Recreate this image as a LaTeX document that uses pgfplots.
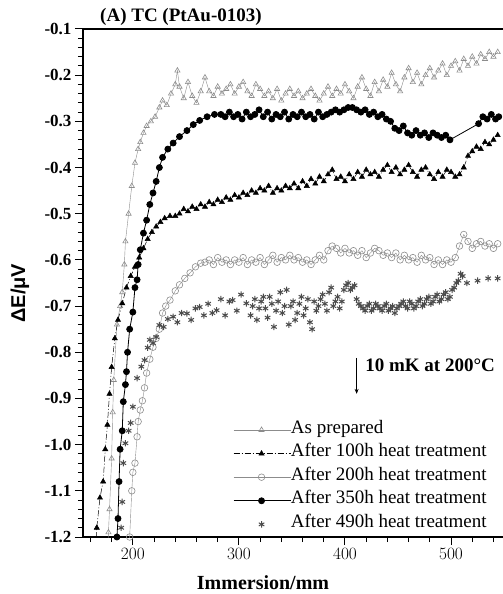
\documentclass[border=0pt]{standalone}
\usepackage{fontspec}
\setmainfont{Liberation Serif}
\newfontfamily\labelsans{Liberation Sans}
\usepackage{pgfplots}
\pgfplotsset{compat=1.18}
\usetikzlibrary{arrows.meta}
\begin{document}
\begin{tikzpicture}
\begin{axis}[
  scale only axis, width=420pt, height=508pt,
  xmin=153, xmax=549, ymin=-1.2, ymax=-0.1,
  axis x line*=box, axis y line*=left,
  axis line style={line width=1.1pt},
  xtick={200,300,400,500},
  minor xtick={160,180,220,240,260,280,320,340,360,380,420,440,460,480,520,540},
  ytick={-1.2,-1.1,-1.0,-0.9,-0.8,-0.7,-0.6,-0.5,-0.4,-0.3,-0.2,-0.1},
  yticklabels={-1.2,-1.1,-1.0,-0.9,-0.8,-0.7,-0.6,-0.5,-0.4,-0.3,-0.2,-0.1},
  minor y tick num=4,
  xtick pos=left, ytick pos=left,
  tick align=outside,
  major tick length=8pt, minor tick length=5pt,
  every tick/.style={black, line width=1pt},
  tick label style={font=\fontsize{17}{20}\selectfont\bfseries},
  title={(A) TC (PtAu-0103)},
  title style={font=\fontsize{19}{22}\selectfont\bfseries, at={(axis description cs:0.0405,1)}, anchor=base west, inner sep=0pt, yshift=1pt},
  xlabel={Immersion/mm},
  xlabel style={font=\fontsize{20}{24}\selectfont\bfseries, at={(axis description cs:0.4286,-0.1043)}, anchor=base},
  ylabel={\labelsans ΔE/μV},
  ylabel style={font=\fontsize{20}{24}\selectfont\bfseries, at={(axis description cs:-0.15,0.48)}, anchor=center},
  legend image code/.code={\draw[mark repeat=2,mark phase=2,#1] plot coordinates {(0pt,0pt) (28pt,0pt) (57pt,0pt)};},
  legend style={draw=none, fill=none, at={(axis description cs:0.357,0.2343)}, anchor=north west,
    font=\fontsize{19}{23}\selectfont, row sep=0pt, inner sep=0pt,
    nodes={inner sep=0pt, text height=15pt, text depth=8.6pt, anchor=west},
    /tikz/every even column/.append style={column sep=2pt}},
  legend cell align=left,
]
% As prepared
\addplot[color=black!45, mark=triangle, mark size=3pt, line width=0.4pt, mark options={solid, line width=0.6pt}] coordinates {
(176,-1.25)(177,-1.19)(178,-1.14)(180,-1.03)(181,-0.93)(182,-0.86)(185,-0.74)(188,-0.70)(190,-0.67)(192,-0.61)(193,-0.56)(196,-0.50)(199,-0.44)(202,-0.39)(205,-0.36)(207,-0.345)(210,-0.325)(213,-0.31)(217,-0.30)(221,-0.29)(225,-0.27)(228,-0.255)(232,-0.265)(236,-0.24)(240,-0.22)(242,-0.19)
(244,-0.225)(248,-0.25)(252,-0.215)(256,-0.245)(260,-0.26)(264,-0.235)(268,-0.205)(272,-0.235)(276,-0.245)(280,-0.225)(284,-0.24)(288,-0.23)(292,-0.22)(296,-0.24)(300,-0.225)(304,-0.215)(308,-0.235)(312,-0.245)(316,-0.22)(320,-0.23)(324,-0.245)(328,-0.235)(332,-0.25)(336,-0.23)(340,-0.255)(344,-0.24)(348,-0.23)(352,-0.245)(356,-0.235)(360,-0.25)(364,-0.24)(368,-0.23)(372,-0.245)(376,-0.255)(380,-0.24)(384,-0.225)(388,-0.245)(392,-0.23)(396,-0.24)(400,-0.22)(404,-0.235)(408,-0.25)(412,-0.225)(416,-0.205)(420,-0.23)(424,-0.245)(428,-0.215)(432,-0.235)(436,-0.21)(440,-0.225)(444,-0.195)(448,-0.22)(452,-0.235)(456,-0.205)(460,-0.185)(464,-0.215)(468,-0.195)(472,-0.22)(476,-0.2)(480,-0.185)(484,-0.205)(488,-0.19)(492,-0.175)(496,-0.2)(500,-0.18)(504,-0.17)(508,-0.19)(512,-0.165)(516,-0.18)(520,-0.16)(524,-0.175)(528,-0.155)(532,-0.165)(536,-0.15)(540,-0.16)(544,-0.15)
};
\addlegendentry{As prepared}
% After 100h
\addplot[color=black, mark=triangle*, mark size=3pt, line width=0.5pt, dash pattern=on 6pt off 2pt on 1pt off 2pt, mark options={solid}] coordinates {
(164,-1.25)(166,-1.18)(169,-1.115)(172,-1.08)(174,-1.01)(176,-0.957)(178,-0.89)(180,-0.832)(183,-0.77)(186,-0.73)(190,-0.694)(194,-0.66)(198,-0.635)(202,-0.615)(206,-0.595)(210,-0.575)(214,-0.555)(218,-0.54)(222,-0.528)(226,-0.518)(230,-0.51)(235,-0.505)
(240,-0.505)(244,-0.5)(248,-0.49)(252,-0.495)(256,-0.485)(260,-0.49)(264,-0.48)(268,-0.485)(272,-0.475)(276,-0.48)(280,-0.47)(284,-0.475)(288,-0.465)(292,-0.47)(296,-0.46)(300,-0.465)(304,-0.455)(308,-0.46)(312,-0.45)(316,-0.455)(320,-0.445)(324,-0.45)(328,-0.44)(332,-0.455)(336,-0.445)(340,-0.45)(344,-0.44)(348,-0.445)(352,-0.435)(356,-0.445)(360,-0.43)(364,-0.44)(368,-0.425)(372,-0.435)(376,-0.42)(380,-0.43)(384,-0.415)(388,-0.405)(392,-0.425)(396,-0.42)(400,-0.43)(404,-0.415)(408,-0.425)(412,-0.41)(416,-0.42)(420,-0.405)(424,-0.415)(428,-0.41)(432,-0.42)(436,-0.405)(440,-0.395)(444,-0.41)(448,-0.4)(452,-0.415)(456,-0.405)(460,-0.395)(464,-0.41)(468,-0.42)(472,-0.405)(476,-0.4)(480,-0.415)(484,-0.425)(488,-0.41)(492,-0.42)(496,-0.405)(500,-0.41)(504,-0.42)(508,-0.415)(512,-0.4)(516,-0.375)(520,-0.365)(524,-0.355)(528,-0.36)(532,-0.345)(536,-0.35)(540,-0.34)(544,-0.33)
};
\addlegendentry{After 100h heat treatment}
% After 200h
\addplot[color=black!45, mark=o, mark size=3.3pt, line width=0.4pt, mark options={solid, line width=0.6pt}] coordinates {
(196,-1.25)(197,-1.2)(199,-1.10)(200,-1.06)(202,-1.04)(204,-0.983)(205,-0.95)(207,-0.925)(209,-0.905)(211,-0.877)(213,-0.845)(216,-0.815)(219,-0.789)(222,-0.77)(225,-0.75)(228,-0.715)(231,-0.70)(235,-0.687)(240,-0.667)(244,-0.654)(249,-0.64)(254,-0.628)(259,-0.615)(264,-0.607)
(268,-0.605)(272,-0.60)(276,-0.61)(280,-0.595)(284,-0.605)(288,-0.60)(292,-0.61)(296,-0.60)(300,-0.605)(304,-0.595)(308,-0.61)(312,-0.60)(316,-0.605)(320,-0.595)(324,-0.61)(328,-0.60)(332,-0.59)(336,-0.605)(340,-0.595)(344,-0.6)(348,-0.59)(352,-0.6)(356,-0.595)(360,-0.605)(364,-0.6)(368,-0.61)(372,-0.6)(376,-0.59)(380,-0.6)(384,-0.58)(388,-0.57)(392,-0.575)(396,-0.585)(400,-0.575)(404,-0.585)(408,-0.58)(412,-0.59)(416,-0.58)(420,-0.595)(424,-0.585)(428,-0.575)(432,-0.58)(436,-0.59)(440,-0.585)(444,-0.595)(448,-0.585)(452,-0.6)(456,-0.59)(460,-0.6)(464,-0.595)(468,-0.605)(472,-0.59)(476,-0.6)(480,-0.595)(484,-0.61)(488,-0.6)(492,-0.61)(496,-0.6)(500,-0.605)(504,-0.595)(508,-0.57)(512,-0.545)(516,-0.56)(520,-0.575)(524,-0.565)(528,-0.56)(532,-0.57)(536,-0.565)(540,-0.575)(544,-0.565)
};
\addlegendentry{After 200h heat treatment}
% After 350h
\addplot[color=black, mark=*, mark size=3pt, line width=0.8pt] coordinates {
(184,-1.25)(185,-1.2)(186,-1.16)(187,-1.08)(188,-1.01)(190,-0.97)(191,-0.907)(193,-0.87)(194,-0.842)(195,-0.80)(197,-0.75)(200,-0.713)(202,-0.66)(204,-0.643)(205,-0.61)(207,-0.578)(210,-0.542)(213,-0.514)(216,-0.48)(219,-0.455)(222,-0.43)(225,-0.40)(228,-0.378)(233,-0.36)(238,-0.347)(244,-0.333)(251,-0.32)(257,-0.307)(263,-0.298)(270,-0.29)(277,-0.285)
(283,-0.285)(287,-0.29)(291,-0.28)(295,-0.29)(299,-0.285)(303,-0.295)(307,-0.28)(311,-0.29)(315,-0.285)(319,-0.275)(323,-0.29)(327,-0.28)(331,-0.295)(335,-0.285)(339,-0.29)(343,-0.28)(347,-0.295)(351,-0.285)(355,-0.29)(359,-0.28)(363,-0.29)(367,-0.285)(371,-0.295)(375,-0.28)(379,-0.29)(383,-0.285)(387,-0.28)(391,-0.275)(395,-0.28)(399,-0.275)(403,-0.27)(407,-0.27)(411,-0.275)(415,-0.28)(419,-0.275)(423,-0.285)(427,-0.28)(431,-0.29)(435,-0.285)(439,-0.295)(443,-0.3)(447,-0.315)(451,-0.32)(455,-0.31)(459,-0.325)(463,-0.33)(467,-0.32)(471,-0.33)(475,-0.325)(479,-0.335)(483,-0.325)(487,-0.33)(491,-0.335)(495,-0.33)(499,-0.34)
(526,-0.305)(530,-0.29)(534,-0.295)(538,-0.285)(542,-0.295)(545,-0.29)
};
\addlegendentry{After 350h heat treatment}
% After 490h
\addplot[only marks, color=black!70, mark=asterisk, mark size=3.2pt, mark options={line width=1pt}] coordinates {
(189,-1.18)(190,-1.124)(191,-1.04)(193,-0.997)(196,-0.97)(198,-0.953)(200,-0.918)(204,-0.856)(208,-0.831)(211,-0.817)(214,-0.79)(216,-0.773)(219,-0.78)(222,-0.767)(225,-0.741)(229,-0.745)(233,-0.728)(238,-0.723)(242,-0.735)(246,-0.715)(251,-0.716)(255,-0.73)(259,-0.705)(263,-0.702)(267,-0.72)(271,-0.695)(275,-0.715)(279,-0.709)(283,-0.685)(287,-0.72)(291,-0.69)(294,-0.687)(298,-0.71)(302,-0.675)(307,-0.694)
(311,-0.72)(313,-0.70)(315,-0.685)(317,-0.73)(319,-0.705)(321,-0.69)(323,-0.68)(325,-0.705)(327,-0.725)(329,-0.68)(331,-0.695)(333,-0.745)(335,-0.71)(337,-0.69)(339,-0.67)(341,-0.715)(343,-0.70)(345,-0.665)(347,-0.74)(349,-0.70)(351,-0.69)(353,-0.73)(355,-0.715)(357,-0.695)(359,-0.68)(361,-0.72)(363,-0.705)(365,-0.685)(367,-0.735)(369,-0.75)(371,-0.69)(373,-0.71)(375,-0.70)(377,-0.685)(379,-0.675)(381,-0.695)(383,-0.71)(385,-0.67)(387,-0.66)(389,-0.70)(391,-0.69)(393,-0.68)(395,-0.705)(397,-0.69)(399,-0.665)(401,-0.655)(403,-0.65)(405,-0.665)(407,-0.66)(409,-0.655)(411,-0.685)(413,-0.695)(415,-0.70)(417,-0.705)(419,-0.71)(421,-0.70)(423,-0.695)(425,-0.71)(427,-0.705)(429,-0.695)(431,-0.70)(433,-0.705)(435,-0.71)(437,-0.70)(439,-0.695)(441,-0.71)(443,-0.705)(445,-0.70)(447,-0.715)(449,-0.705)(451,-0.70)(453,-0.695)(455,-0.69)(457,-0.70)(459,-0.705)(461,-0.69)(463,-0.695)(465,-0.705)(467,-0.70)(469,-0.69)(471,-0.685)(473,-0.70)(475,-0.695)(477,-0.685)(479,-0.68)(481,-0.695)(483,-0.69)(485,-0.68)(487,-0.675)(489,-0.69)(491,-0.685)(493,-0.675)(495,-0.67)(497,-0.685)(499,-0.68)(501,-0.665)(503,-0.66)(505,-0.65)(507,-0.645)(509,-0.63)(511,-0.635)(515,-0.65)(525,-0.645)(535,-0.64)(544,-0.64)
};
\addlegendentry{After 490h heat treatment}
\draw[-{Stealth[length=5pt,width=4pt]}, line width=0.8pt] (axis cs:411,-0.812) -- (axis cs:411,-0.89);
\node[anchor=west, font=\fontsize{19}{22}\selectfont\bfseries, inner sep=0pt] at (axis cs:419,-0.828) {10 mK at 200°C};
\end{axis}
\pgfresetboundingbox
\useasboundingbox (-83pt,-57pt) rectangle (420pt,537pt);
\end{tikzpicture}
\end{document}
